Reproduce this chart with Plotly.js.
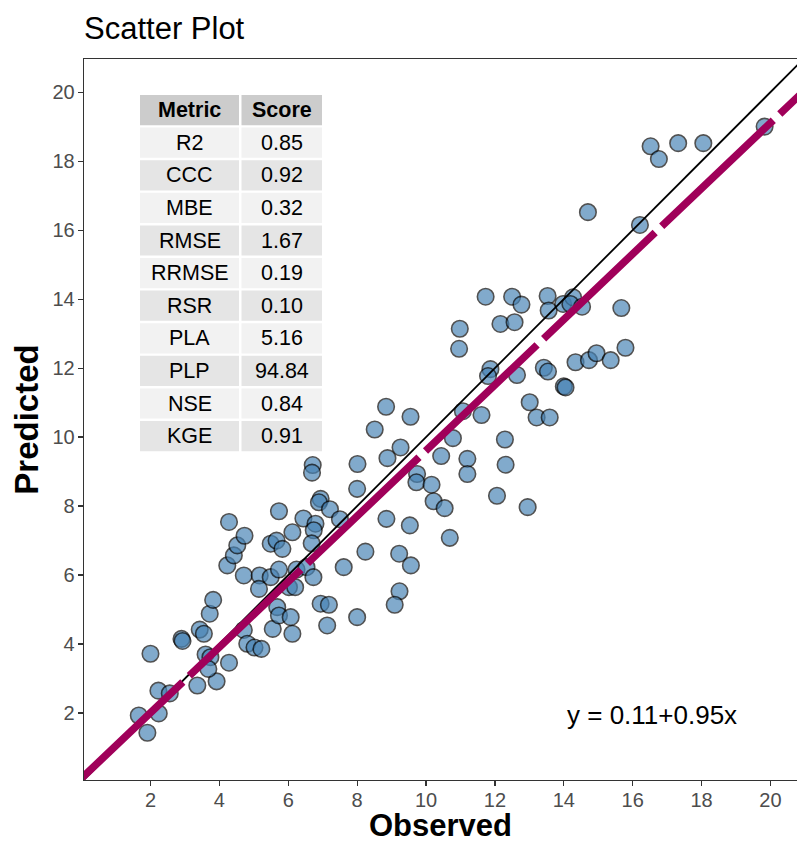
<!DOCTYPE html>
<html>
<head>
<meta charset="utf-8">
<script src="https://cdn.plot.ly/plotly-3.0.1.min.js"></script>
<style>html,body{margin:0;padding:0;background:#fff;}#chart{width:797px;height:843px;}</style>
</head>
<body>
<div id="chart"></div>
<script>
// ---- data ----
const observed = [1.66,2.24,1.91,2.23,2.56,3.36,3.92,2.00,2.90,2.93,3.43,3.55,3.60,3.74,3.68,4.28,3.72,3.82,4.71,4.81,5.02,5.22,5.55,5.68,5.73,6.07,6.12,6.94,7.18,7.13,8.00,
4.23,4.42,4.52,4.73,4.28,4.71,5.17,5.15,5.49,5.73,6.24,6.53,6.73,6.02,6.20,7.61,8.24,5.49,5.66,5.83,6.12,5.73,6.44,6.79,6.74,6.68,6.94,6.89,7.21,7.50,6.71,6.69,8.01,8.00,
8.84,9.55,8.51,9.26,8.88,9.74,9.72,10.16,10.22,10.54,10.44,10.78,11.20,11.20,11.07,11.61,8.85,9.53,10.69,9.22,9.56,9.23,9.09,12.29,12.31,12.06,12.95,
10.96,10.98,11.73,12.50,12.77,13.53,13.56,13.98,14.27,14.19,14.53,15.67,12.16,12.57,11.87,11.80,12.64,13.42,13.54,14.00,14.05,14.34,14.73,14.95,15.36,15.79,13.01,13.21,13.59,
14.70,16.21,16.52,16.76,17.32,18.05,19.83];
const predicted = [1.93,1.99,1.43,2.65,2.57,2.80,2.92,3.72,4.15,4.09,4.42,4.30,3.70,3.62,3.28,3.46,4.88,5.28,4.41,4.01,3.90,3.86,4.44,5.07,4.83,4.78,4.30,5.17,5.14,4.54,4.78,
6.28,6.57,6.86,7.14,7.54,5.99,5.99,5.60,5.94,6.16,6.16,6.23,5.94,5.65,5.65,6.23,6.68,6.91,7.00,6.76,7.24,7.85,7.64,7.49,7.30,6.92,8.21,8.11,7.91,7.62,9.19,8.97,9.22,8.50,
10.88,10.59,10.22,9.70,9.39,8.93,8.69,8.62,8.14,7.94,9.45,9.97,9.37,8.93,10.75,10.64,7.63,7.44,7.08,6.62,6.28,5.53,5.14,9.93,9.20,8.30,7.97,
12.56,13.14,14.07,14.07,13.84,14.09,13.67,13.86,14.05,13.86,13.78,13.74,13.28,13.33,11.97,11.77,11.80,12.01,11.90,11.47,11.44,12.17,12.23,12.43,12.23,12.59,11.01,10.57,10.57,
16.52,16.15,18.43,18.06,18.52,18.52,19.00];

const fitIntercept = 0.11;
const fitSlope = 0.95;
const equationText = 'y = 0.11+0.95x';
const xTitle = 'Observed';
const yTitle = 'Predicted';

const tableHeader = ['Metric', 'Score'];
const metricNames = ['R2','CCC','MBE','RMSE','RRMSE','RSR','PLA','PLP','NSE','KGE'];
const metricScores = ['0.85','0.92','0.32','1.67','0.19','0.10','5.16','94.84','0.84','0.91'];

const tickValues = [2,4,6,8,10,12,14,16,18,20];
const xRange = [0.07, 20.77];
const yRange = [0.06, 20.96];

// ---- layout geometry (pixels) ----
const W = 797, H = 843;
const M = {l: 84, r: 0, t: 59, b: 63};
const plotW = W - M.l - M.r, plotH = H - M.t - M.b;
const px2paperX = p => (p - M.l) / plotW;
const px2paperY = p => (H - M.b - p) / plotH;

const FONT = 'Liberation Sans, Arial, Helvetica, sans-serif';

// lines
const dashPhase = 0.37; // start dash pattern slightly left of panel
const lineX = [xRange[0] - dashPhase, xRange[1] + 0.5];
const fitY = lineX.map(x => fitIntercept + fitSlope * x);
const oneX = [xRange[0] - 0.5, xRange[1] + 0.5];

const traces = [
  {
    x: observed, y: predicted, type: 'scatter', mode: 'markers',
    marker: {size: 16.5, color: '#4682B4', opacity: 0.68, line: {color: '#000000', width: 1.6}},
    hoverinfo: 'x+y', showlegend: false
  },
  {
    x: oneX, y: oneX, type: 'scatter', mode: 'lines',
    line: {color: '#000000', width: 1.8}, showlegend: false, hoverinfo: 'skip'
  },
  {
    x: lineX, y: fitY, type: 'scatter', mode: 'lines',
    line: {color: '#A0005A', width: 7.5, dash: '154px,9px'}, showlegend: false, hoverinfo: 'skip'
  }
];

// ---- table via shapes + annotations ----
const colBounds = [[140, 239], [241.5, 322]];
const rowTop0 = 95, rowPitch = 32.6, rowH = 30.2;
const shapes = [];
const annotations = [];
const nRows = metricNames.length + 1;
for (let r = 0; r < nRows; r++) {
  const top = rowTop0 + r * rowPitch;
  const bot = top + rowH;
  const fill = r === 0 ? '#cccccc' : (r % 2 === 1 ? '#f2f2f2' : '#e5e5e5');
  const texts = r === 0 ? tableHeader : [metricNames[r - 1], metricScores[r - 1]];
  for (let c = 0; c < 2; c++) {
    shapes.push({
      type: 'rect', xref: 'paper', yref: 'paper', layer: 'above',
      x0: px2paperX(colBounds[c][0]), x1: px2paperX(colBounds[c][1]),
      y0: px2paperY(bot), y1: px2paperY(top),
      fillcolor: fill, line: {width: 0}
    });
    annotations.push({
      xref: 'paper', yref: 'paper', showarrow: false,
      x: px2paperX((colBounds[c][0] + colBounds[c][1]) / 2),
      y: px2paperY((top + bot) / 2),
      xanchor: 'center', yanchor: 'middle',
      text: r === 0 ? '<b>' + texts[c] + '</b>' : texts[c],
      font: {family: FONT, size: 21.5, color: '#000000'}
    });
  }
}
annotations.push({
  xref: 'paper', yref: 'paper', showarrow: false,
  x: px2paperX(652), y: px2paperY(715), xanchor: 'center', yanchor: 'middle',
  text: equationText, font: {family: FONT, size: 26, color: '#000000'}
});
// x axis title (placed as annotation to sit at the bottom like the reference)
annotations.push({
  xref: 'paper', yref: 'paper', showarrow: false,
  x: 0.5, y: px2paperY(825), xanchor: 'center', yanchor: 'middle',
  text: '<b>' + xTitle + '</b>', font: {family: FONT, size: 31, color: '#000000'}
});

const axisCommon = {
  showgrid: false, zeroline: false, showline: true, mirror: true,
  linecolor: '#333333', linewidth: 1.3,
  ticks: 'outside', ticklen: 5, tickwidth: 1.2, tickcolor: '#333333',
  tickvals: tickValues, ticktext: tickValues.map(String),
  tickfont: {family: FONT, size: 20, color: '#4d4d4d'},
  automargin: false
};

const layout = {
  width: W, height: H,
  margin: M,
  paper_bgcolor: '#ffffff', plot_bgcolor: '#ffffff',
  font: {family: FONT},
  title: {
    text: 'Scatter Plot', xref: 'container', yref: 'container',
    x: M.l / W, xanchor: 'left', y: 1 - 28 / H, yanchor: 'middle',
    font: {family: FONT, size: 31, color: '#000000'}
  },
  xaxis: Object.assign({}, axisCommon, {
    range: xRange,
    ticklabelstandoff: -3
  }),
  yaxis: Object.assign({}, axisCommon, {
    range: yRange,
    ticklabelstandoff: -1,
    title: {text: '<b>' + yTitle + '</b>', standoff: 4, font: {family: FONT, size: 33, color: '#000000'}}
  }),
  shapes: shapes,
  annotations: annotations,
  showlegend: false
};

Plotly.newPlot('chart', traces, layout, {displayModeBar: false, staticPlot: true});
</script>
</body>
</html>
